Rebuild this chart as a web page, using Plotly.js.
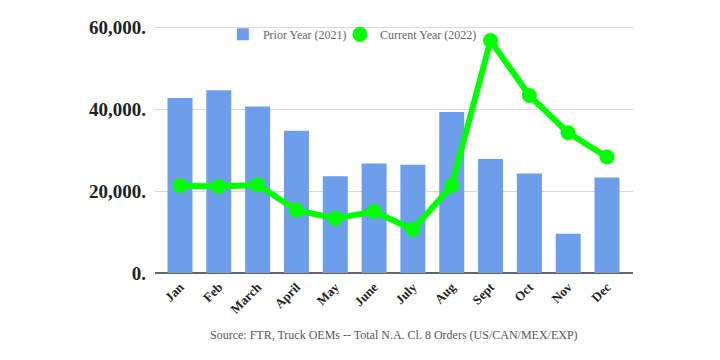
<!DOCTYPE html>
<html>
<head>
<meta charset="utf-8">
<script src="https://cdn.plot.ly/plotly-3.0.1.min.js"></script>
<style>html,body{margin:0;padding:0;background:#fff;}#chart{width:720px;height:360px;}</style>
</head>
<body>
<div id="chart"></div>
<script>
const months = ["Jan","Feb","March","April","May","June","July","Aug","Sept","Oct","Nov","Dec"];
const prior2021 = [42700, 44600, 40600, 34700, 23600, 26700, 26400, 39300, 27800, 24300, 9600, 23300];
const current2022 = [21300, 21100, 21500, 15300, 13300, 15000, 10600, 21300, 56700, 43300, 34200, 28300];
const yTickVals = [0, 20000, 40000, 60000];
const yTickText = ["0.", "20,000.", "40,000.", "60,000."];
const sourceText = "Source: FTR, Truck OEMs -- Total N.A. Cl. 8 Orders (US/CAN/MEX/EXP)";

const serif = '"Liberation Serif", "Times New Roman", serif';

const data = [
  {
    type: 'bar', x: months, y: prior2021, name: 'Prior Year (2021)',
    marker: {color: '#6d9eeb', line: {color: '#6d9eeb', width: 0}},
    hoverinfo: 'none', legend: 'legend'
  },
  {
    type: 'scatter', mode: 'lines+markers', x: months, y: current2022, name: 'Current Year (2022)',
    line: {color: '#00ff00', width: 6},
    marker: {color: '#00ff00', size: 15},
    cliponaxis: false, hoverinfo: 'none', showlegend: false
  },
  {
    type: 'scatter', mode: 'markers', x: [null], y: [null], name: 'Current Year (2022)',
    marker: {color: '#00ff00', size: 15}, hoverinfo: 'none', legend: 'legend2'
  }
];

const legendFont = {family: serif, size: 12, color: '#666'};

const layout = {
  width: 720, height: 360,
  margin: {l: 155, r: 87, t: 26, b: 87},
  paper_bgcolor: '#fff', plot_bgcolor: '#fff',
  bargap: 0.356,
  showlegend: true,
  legend: {
    orientation: 'h', x: 0.142, y: 1.025, xanchor: 'left', yanchor: 'top',
    font: legendFont, bgcolor: 'rgba(0,0,0,0)', itemwidth: 30
  },
  legend2: {
    orientation: 'h', x: 0.387, y: 1.025, xanchor: 'left', yanchor: 'top',
    font: legendFont, bgcolor: 'rgba(0,0,0,0)', itemwidth: 30
  },
  xaxis: {
    type: 'category', range: [-0.644, 11.67],
    tickangle: -45, ticks: '', showgrid: false, ticklabelstandoff: 3,
    tickfont: {family: serif, size: 13, color: '#222', weight: 'bold'},
    showline: false, zeroline: false, fixedrange: true
  },
  yaxis: {
    range: [0, 60250], tickvals: yTickVals, ticktext: yTickText,
    tickfont: {family: serif, size: 19, color: '#222', weight: 'bold'},
    gridcolor: '#d9d9d9', gridwidth: 1, zeroline: true, zerolinecolor: '#666', zerolinewidth: 2,
    showline: false, ticks: '', ticklen: 0, ticklabelstandoff: 8, automargin: false, fixedrange: true
  },
  annotations: [{
    text: sourceText, xref: 'paper', yref: 'paper', x: 0.5, y: -0.215,
    xanchor: 'center', yanchor: 'top', showarrow: false,
    font: {family: serif, size: 12, color: '#555'}
  }]
};

Plotly.newPlot('chart', data, layout, {displayModeBar: false, staticPlot: true});
</script>
</body>
</html>
